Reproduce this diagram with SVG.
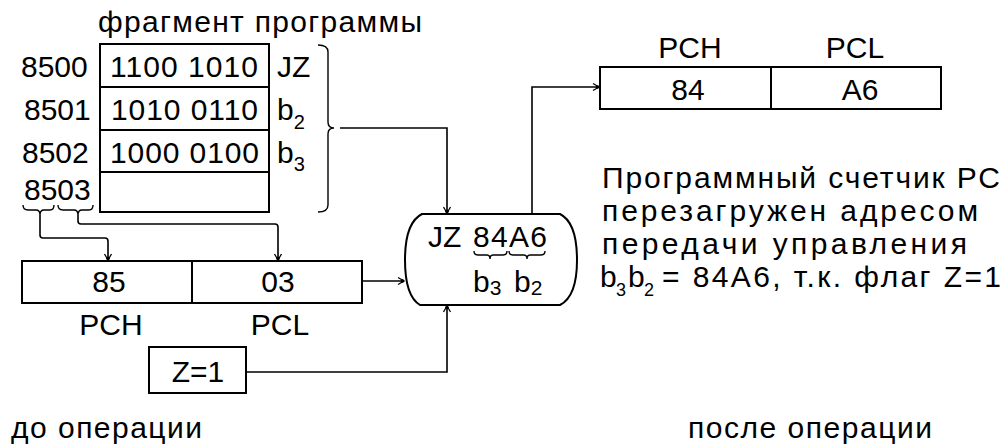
<svg xmlns="http://www.w3.org/2000/svg" width="1003" height="447" viewBox="0 0 1003 447">
<style>
text{font-family:"Liberation Sans",Arial,sans-serif;font-size:30px;fill:#000}
.c{text-anchor:middle}
.box{fill:#fff;stroke:#000;stroke-width:2}
.ln{fill:none;stroke:#000;stroke-width:1.6}
.br{fill:none;stroke:#000;stroke-width:1.4}
.sub{font-size:20px}
.sm{font-size:18px}
</style>
<defs>
<marker id="arr" markerUnits="userSpaceOnUse" markerWidth="10" markerHeight="10" viewBox="-8 -5 10 10" refX="0" refY="0" orient="auto">
<path d="M-6,-3.5 L0,0 L-6,3.5" fill="none" stroke="#000" stroke-width="1.3"/>
<circle cx="-1.5" cy="0" r="1.8" fill="#000"/>
</marker>
</defs>
<rect width="1003" height="447" fill="#fff"/>

<g id="program">
<text x="98" y="32" textLength="324" lengthAdjust="spacing">фрагмент программы</text>
<rect class="box" x="100" y="44" width="169" height="168"/>
<line class="ln" x1="100" y1="87" x2="269" y2="87" style="stroke-width:2"/>
<line class="ln" x1="100" y1="130" x2="269" y2="130" style="stroke-width:2"/>
<line class="ln" x1="100" y1="172" x2="269" y2="172" style="stroke-width:2"/>
<text x="21" y="77">8500</text>
<text x="24" y="120">8501</text>
<text x="22" y="163">8502</text>
<text x="24" y="200">8503</text>
<text x="110" y="77" textLength="148" lengthAdjust="spacing">1100 1010</text>
<text x="111" y="120" textLength="147" lengthAdjust="spacing">1010 0110</text>
<text x="110" y="163" textLength="149" lengthAdjust="spacing">1000 0100</text>
<text x="277" y="77">JZ</text>
<text x="277" y="120">b<tspan class="sub" dy="9">2</tspan></text>
<text x="277" y="163">b<tspan class="sub" dy="8">3</tspan></text>
<path class="br" d="M318,45 Q328,45 328,52 L328,122 Q328,128 334,128 Q328,128 328,134 L328,205 Q328,212 318,212"/>
<path class="br" d="M23,205 Q23,210 28,210 L36,210 Q40,210 40,215 Q40,210 44,210 L50,210 Q54,210 54,205"/>
<path class="br" d="M58,205 Q58,210 63,210 L74,210 Q78,210 78,215 Q78,210 82,210 L89,210 Q93,210 93,205"/>
</g>

<g id="pc-before">
<rect class="box" x="22" y="261" width="340" height="42"/>
<line class="ln" x1="192" y1="261" x2="192" y2="303" style="stroke-width:2"/>
<text class="c" x="109" y="292">85</text>
<text class="c" x="278" y="292">03</text>
<text class="c" x="111" y="335">PCH</text>
<text class="c" x="280" y="335">PCL</text>
</g>

<g id="flag">
<rect class="box" x="149" y="347" width="97" height="46"/>
<text class="c" x="198" y="382">Z=1</text>
</g>

<g id="decoder">
<path class="box" d="M422,214 L560,214 C572,220 577,236 577,260 C577,284 572,299 560,305 L420,305 C410,299 405,284 405,260 C405,236 410,220 422,214 Z"/>
<text x="428" y="247">JZ</text>
<text x="473" y="247" textLength="74" lengthAdjust="spacing">84A6</text>
<path class="br" d="M474,251 Q474,255 478,255 L487,255 Q490,255 490,259 Q490,255 493,255 L503,255 Q507,255 507,251"/>
<path class="br" d="M509,251 Q509,255 513,255 L524,255 Q527,255 527,259 Q527,255 530,255 L541,255 Q545,255 545,251"/>
<text x="473" y="292">b<tspan style="font-size:21px" dy="3">3</tspan></text>
<text x="514" y="292">b<tspan style="font-size:21px" dy="3">2</tspan></text>
</g>

<g id="pc-after">
<rect class="box" x="600" y="67" width="341" height="42"/>
<line class="ln" x1="771" y1="67" x2="771" y2="109" style="stroke-width:2"/>
<text class="c" x="688" y="100">84</text>
<text class="c" x="860" y="100">A6</text>
<text class="c" x="690" y="58">PCH</text>
<text class="c" x="855" y="58">PCL</text>
</g>

<g id="note">
<text x="602" y="188" textLength="398" lengthAdjust="spacing">Программный счетчик РС</text>
<text x="602" y="221" textLength="376" lengthAdjust="spacing">перезагружен адресом</text>
<text x="602" y="254" textLength="365" lengthAdjust="spacing">передачи управления</text>
<text x="600" y="287">b</text>
<text class="sm" x="616" y="296">3</text>
<text x="628" y="287">b</text>
<text class="sm" x="644" y="296">2</text>
<text x="662" y="287" textLength="339" lengthAdjust="spacing">= 84A6, т.к. флаг Z=1</text>
</g>

<g id="captions">
<text x="11" y="438" textLength="191" lengthAdjust="spacing">до операции</text>
<text x="688" y="438" textLength="244" lengthAdjust="spacing">после операции</text>
</g>

<g id="connectors">
<path class="ln" d="M40,215 L40,235 Q40,238 43,238 L105,238 Q108,238 108,241 L108,260" marker-end="url(#arr)"/>
<path class="ln" d="M78,215 L78,221 Q78,224 81,224 L275,224 Q278,224 278,227 L278,260" marker-end="url(#arr)"/>
<path class="ln" d="M340,128 L447,128 L447,213" marker-end="url(#arr)"/>
<path class="ln" d="M362,281 L404,281" marker-end="url(#arr)"/>
<path class="ln" d="M246,372 L447,372 L447,306" marker-end="url(#arr)"/>
<path class="ln" d="M532,214 L532,87 L599,87" marker-end="url(#arr)"/>
</g>
</svg>
